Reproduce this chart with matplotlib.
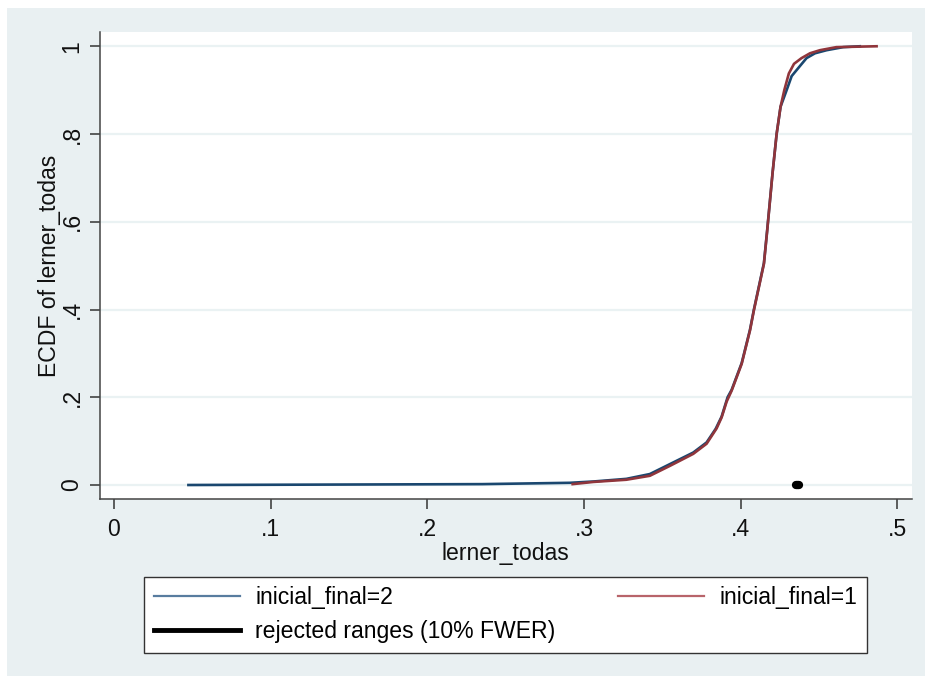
import matplotlib
matplotlib.use("Agg")
import matplotlib.pyplot as plt
from matplotlib.lines import Line2D
from matplotlib.patches import Rectangle

plt.rcParams['font.family'] = ['Liberation Sans', 'DejaVu Sans']

# ---- data ----
blue_x = [0.0475, 0.235, 0.291, 0.306, 0.327, 0.342, 0.355, 0.3697, 0.3782, 0.3840,
          0.3878, 0.3916, 0.3942, 0.4006, 0.4059, 0.4084, 0.4148, 0.4169, 0.4203,
          0.4229, 0.4254, 0.4293, 0.4325, 0.4378, 0.4420, 0.4474, 0.4548, 0.4654, 0.4760]
blue_F = [0.0, 0.002, 0.005, 0.008, 0.014, 0.025, 0.048, 0.074, 0.097, 0.128,
          0.156, 0.200, 0.217, 0.278, 0.354, 0.400, 0.506, 0.582, 0.711,
          0.800, 0.862, 0.900, 0.932, 0.955, 0.973, 0.984, 0.991, 0.998, 1.0]

red_x = [0.2927, 0.306, 0.327, 0.342, 0.355, 0.3697, 0.3782, 0.3846, 0.3878, 0.3910,
         0.3942, 0.4006, 0.4059, 0.4084, 0.4148, 0.4169, 0.4203, 0.4229, 0.4254,
         0.4278, 0.4307, 0.4340, 0.4388, 0.4442, 0.4505, 0.4610, 0.4867]
red_F = [0.002, 0.007, 0.012, 0.021, 0.044, 0.071, 0.094, 0.129, 0.154, 0.190,
         0.215, 0.276, 0.352, 0.398, 0.504, 0.580, 0.711, 0.800, 0.862,
         0.900, 0.938, 0.960, 0.973, 0.984, 0.991, 0.998, 1.0]

rejected_x = [0.4355, 0.4375]
rejected_y = [0.0, 0.0]

x_ticks = [0, 0.1, 0.2, 0.3, 0.4, 0.5]
x_ticklabels = ['0', '.1', '.2', '.3', '.4', '.5']
y_ticks = [0, 0.2, 0.4, 0.6, 0.8, 1.0]
y_ticklabels = ['0', '.2', '.4', '.6', '.8', '1']

label_blue = 'inicial_final=2'
label_red = 'inicial_final=1'
label_rej = 'rejected ranges (10% FWER)'

# ---- figure ----
W, H = 925, 676
FS = 16.6
fig = plt.figure(figsize=(W / 100, H / 100), dpi=100)
fig.patch.set_facecolor('white')
fig.patches.append(Rectangle((7 / W, 0), 1, (H - 8) / H, transform=fig.transFigure,
                             facecolor='#e9f0f2', edgecolor='none', zorder=-10))

left, right, top, bottom = 99.5, 912, 32, 499
ax = fig.add_axes([left / W, (H - bottom) / H, (right - left) / W, (bottom - top) / H])
ax.set_facecolor('white')

blue = '#1a476f'
red = '#90353b'

ax.plot(blue_x, blue_F, color=blue, lw=1.9, solid_joinstyle='round', zorder=3)
ax.plot(red_x, red_F, color=red, lw=1.9, solid_joinstyle='round', zorder=4)
ax.plot(rejected_x, rejected_y, color='black', lw=6, solid_capstyle='round', zorder=5)

ax.set_xlim(-0.00925, 0.5093)
ax.set_ylim(-0.0319, 1.0325)

ax.set_xticks(x_ticks)
ax.set_xticklabels(x_ticklabels)
ax.set_yticks(y_ticks)
ax.set_yticklabels(y_ticklabels, rotation=90, va='center')

ax.tick_params(axis='both', direction='out', length=7.5, width=1.1, color='#333333',
               labelsize=FS, labelcolor='#111111')
ax.tick_params(axis='x', pad=6)
ax.tick_params(axis='y', pad=4)

for s in ['top', 'right']:
    ax.spines[s].set_visible(False)
for s in ['left', 'bottom']:
    ax.spines[s].set_color('#444444')
    ax.spines[s].set_linewidth(1.1)

ax.yaxis.grid(True, color='#eaf2f3', lw=1.6)
ax.set_axisbelow(True)

ax.set_xlabel('lerner_todas', fontsize=FS, labelpad=1, color='#111111')
ax.set_ylabel('ECDF of lerner_todas', fontsize=FS, labelpad=0, color='#111111')

handles = [
    Line2D([], [], color='#587c9f', lw=1.6),
    Line2D([], [], color='black', lw=3.5),
    Line2D([], [], color='#b8646a', lw=1.6),
]
labels = [label_blue, label_rej, label_red]
leg = fig.legend(handles, labels, ncol=2, loc='upper left',
                 bbox_to_anchor=(144 / W, 1 - 576.7 / H), borderaxespad=0,
                 fontsize=FS, frameon=True, fancybox=False, edgecolor='#333333',
                 framealpha=1.0,
                 handlelength=3.75, handletextpad=0.65, columnspacing=2.7,
                 borderpad=0.42, labelspacing=0.47)
leg.get_frame().set_linewidth(1.0)
leg.get_frame().set_facecolor('white')

fig.savefig('out.png', dpi=100)
